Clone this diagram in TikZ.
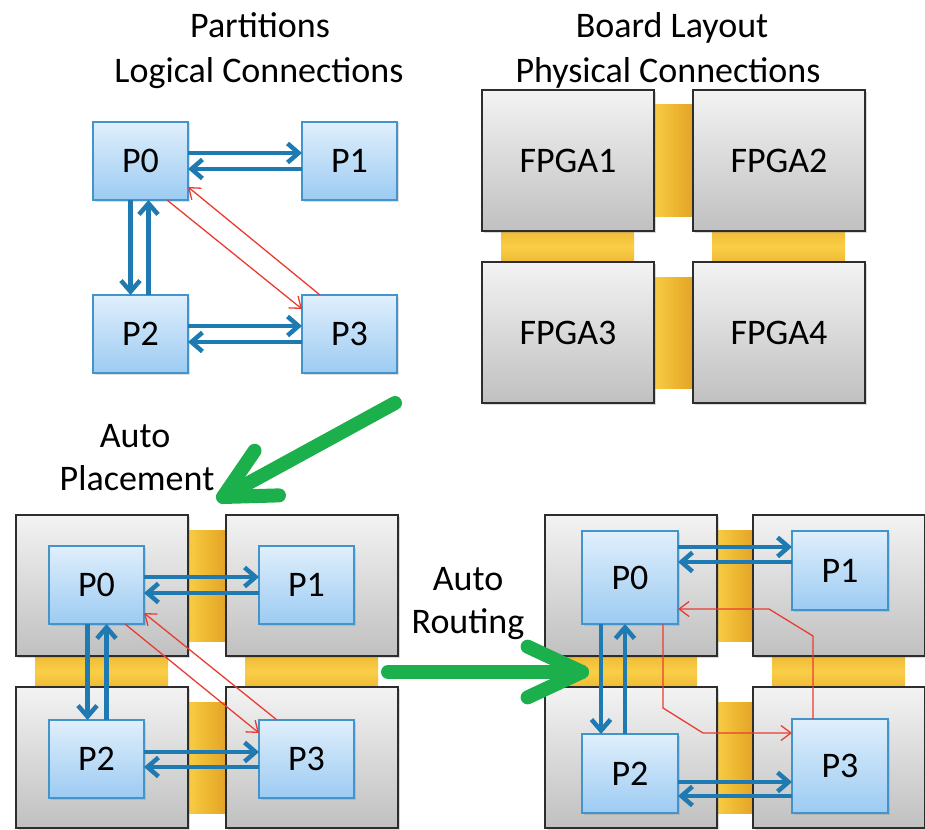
\documentclass[tikz,border=0pt]{standalone}
\usepackage{fontspec}
\setmainfont{Carlito}
\usetikzlibrary{arrows.meta,calc,shadows,backgrounds}

\definecolor{linkblue}{RGB}{31,122,178}
\definecolor{linkred}{RGB}{234,60,50}
\definecolor{flowgreen}{RGB}{27,176,76}
\definecolor{parttop}{RGB}{224,239,252}
\definecolor{partbot}{RGB}{156,203,242}
\definecolor{partedge}{RGB}{68,148,204}
\definecolor{fpgatop}{RGB}{243,243,243}
\definecolor{fpgabot}{RGB}{192,192,192}
\definecolor{fpgaedge}{RGB}{45,45,45}
\definecolor{barlight}{RGB}{250,206,72}
\definecolor{bardark}{RGB}{226,162,38}
\definecolor{barmid}{RGB}{238,184,50}

\begin{document}
\begin{tikzpicture}[x=1pt,y=-1pt,
  lbl/.style={font=\fontsize{36}{43}\selectfont, text=black},
  part/.style={draw=partedge, line width=1.5pt, top color=parttop, bottom color=partbot,
    minimum width=95pt, minimum height=78pt, inner sep=0pt, outer sep=0pt,
    anchor=north west, lbl,
    drop shadow={shadow xshift=1.5pt, shadow yshift=-1.5pt, opacity=0.25}},
  fpga/.style={draw=fpgaedge, line width=1.4pt, top color=fpgatop, bottom color=fpgabot,
    minimum width=172pt, minimum height=141pt, inner sep=0pt, outer sep=0pt,
    anchor=north west, lbl,
    drop shadow={shadow xshift=2pt, shadow yshift=-2pt, opacity=0.3}},
  blink/.style={draw=linkblue, line width=4.5pt, -{Straight Barb[length=11pt,width=19pt]}},
  rlink/.style={draw=linkred, line width=1.3pt, -{Straight Barb[length=10pt,width=15pt]}},
  garrow/.style={draw=flowgreen, line width=14pt, line cap=round, line join=round},
  vbar/.style={left color=barlight, right color=bardark, middle color=barmid},
  hbar/.style={top color=barmid, bottom color=barmid, middle color=barlight},
]
\useasboundingbox (0,0) rectangle (925,829);

% ---------- titles ----------
\node[lbl, anchor=base] (t1) at (260,38) {Partitions};
\node[lbl, anchor=base] (t2) at (259,83) {Logical Connections};
\node[lbl, anchor=base] (t3) at (672,38) {Board Layout};
\node[lbl, anchor=base] (t4) at (668,83) {Physical Connections};

% ---------- logical partitions ----------
\node[part] (a0) at (93,122) {P0};
\node[part] (a1) at (302,122) {P1};
\node[part] (a2) at (93,295) {P2};
\node[part] (a3) at (302,295) {P3};

\draw[blink] ([yshift=8pt]a0.east) -- ([yshift=8pt]a0.east -| a1.west);
\draw[blink] ([yshift=-8pt]a1.west) -- ([yshift=-8pt]a1.west -| a0.east);
\draw[blink] ([xshift=-10pt]a0.south) -- ([xshift=-10pt]a0.south |- a2.north);
\draw[blink] ([xshift=8pt]a2.north) -- ([xshift=8pt]a2.north |- a0.south);
\draw[blink] ([yshift=8pt]a2.east) -- ([yshift=8pt]a2.east -| a3.west);
\draw[blink] ([yshift=-8pt]a3.west) -- ([yshift=-8pt]a3.west -| a2.east);
\draw[rlink] ([xshift=-21pt]a0.south east) -- ([yshift=-14pt]a3.north west);
\draw[rlink] ([xshift=18pt]a3.north west) -- ([yshift=13pt]a0.south east);

% ---------- board layout ----------
\node[fpga] (f1) at (482,90) {FPGA1};
\node[fpga] (f2) at (693,90) {FPGA2};
\node[fpga] (f3) at (482,262) {FPGA3};
\node[fpga] (f4) at (693,262) {FPGA4};

% ---------- placed partitions ----------
\node[fpga] (g1) at (16,515) {};
\node[fpga] (g2) at (226,515) {};
\node[fpga] (g3) at (16,687) {};
\node[fpga] (g4) at (226,687) {};

\node[part] (b0) at (49,546) {P0};
\node[part] (b1) at (259,546) {P1};
\node[part] (b2) at (49,720) {P2};
\node[part] (b3) at (259,720) {P3};

\draw[blink] ([yshift=8pt]b0.east) -- ([yshift=8pt]b0.east -| b1.west);
\draw[blink] ([yshift=-8pt]b1.west) -- ([yshift=-8pt]b1.west -| b0.east);
\draw[blink] ([xshift=-9pt]b0.south) -- ([xshift=-9pt]b0.south |- b2.north);
\draw[blink] ([xshift=10pt]b2.north) -- ([xshift=10pt]b2.north |- b0.south);
\draw[blink] ([yshift=7pt]b2.east) -- ([yshift=7pt]b2.east -| b3.west);
\draw[blink] ([yshift=-8pt]b3.west) -- ([yshift=-8pt]b3.west -| b2.east);
\draw[rlink] ([xshift=-19pt]b0.south east) -- ([yshift=-13pt]b3.north west);
\draw[rlink] ([xshift=18pt]b3.north west) -- ([yshift=11pt]b0.south east);

% ---------- routed partitions ----------
\node[fpga] (h1) at (545,515) {};
\node[fpga] (h2) at (753,515) {};
\node[fpga] (h3) at (545,687) {};
\node[fpga] (h4) at (753,687) {};

\node[part, minimum width=96pt, minimum height=93pt] (c0) at (582,531) {P0};
\node[part, minimum width=96pt, minimum height=79pt] (c1) at (792,531) {P1};
\node[part, minimum width=96pt, minimum height=79pt] (c2) at (582,734) {P2};
\node[part, minimum width=96pt, minimum height=94pt] (c3) at (792,719) {P3};

\coordinate (k1) at ([yshift=-16pt]c1.north west);
\coordinate (k2) at ([yshift=-31pt]c1.north west);
\coordinate (k3) at ([xshift=19pt]c0.south west);
\coordinate (k4) at ([xshift=43pt]c2.north west);
\coordinate (k5) at ([yshift=-48pt]c2.north east);
\coordinate (k6) at ([yshift=-77pt]c3.north west);
\draw[blink] (k1 -| c0.east) -- (k1);
\draw[blink] (k2) -- (k2 -| c0.east);
\draw[blink] (k3) -- (k3 |- c2.north);
\draw[blink] (k4) -- (k4 |- c0.south);
\draw[blink] (k5) -- (k5 -| c3.west);
\draw[blink] (k6) -- (k6 -| c2.east);

\draw[rlink] ([xshift=81pt]c0.south west) -- ++(0,84) -- ++(40,25)
  -- ([yshift=-14pt]c3.north west);
\draw[rlink] ([xshift=21pt]c3.north west) -- ++(0,-83) -- ++(-44,-27)
  -- ([yshift=15pt]c0.south east);

% ---------- interconnect bars ----------
\begin{scope}[on background layer]
  \foreach \ul/\ur/\ll/\lr in {f1/f2/f3/f4, g1/g2/g3/g4, h1/h2/h3/h4}{
    \fill[vbar] ($(\ul.north east)+(-2,15)$) rectangle ($(\ur.south west)+(2,-15)$);
    \fill[vbar] ($(\ll.north east)+(-2,15)$) rectangle ($(\lr.south west)+(2,-15)$);
    \fill[hbar] ($(\ul.south west)+(19,-2)$) rectangle ($(\ll.north east)+(-20,2)$);
    \fill[hbar] ($(\ur.south west)+(19,-2)$) rectangle ($(\lr.north east)+(-20,2)$);
  }
\end{scope}

% ---------- flow arrows and captions ----------
\coordinate (pl0) at (395,403);
\coordinate (pl1) at (223,497);
\draw[garrow] (pl0) -- (pl1);
\draw[garrow] ($(pl1)!56pt!27:(pl0)$) -- (pl1) -- ($(pl1)!56pt!-27:(pl0)$);

\coordinate (rt0) at (388,672);
\coordinate (rt1) at (582,672);
\draw[garrow] (rt0) -- (rt1);
\draw[garrow] ($(rt1)!60pt!25:(rt0)$) -- (rt1) -- ($(rt1)!60pt!-25:(rt0)$);

\node[lbl, anchor=base] (p1) at (135,447) {Auto};
\node[lbl, anchor=base] (p2) at (137,490) {Placement};
\node[lbl, anchor=base] (r1) at (468,590) {Auto};
\node[lbl, anchor=base] (r2) at (468,633) {Routing};
\end{tikzpicture}
\end{document}
